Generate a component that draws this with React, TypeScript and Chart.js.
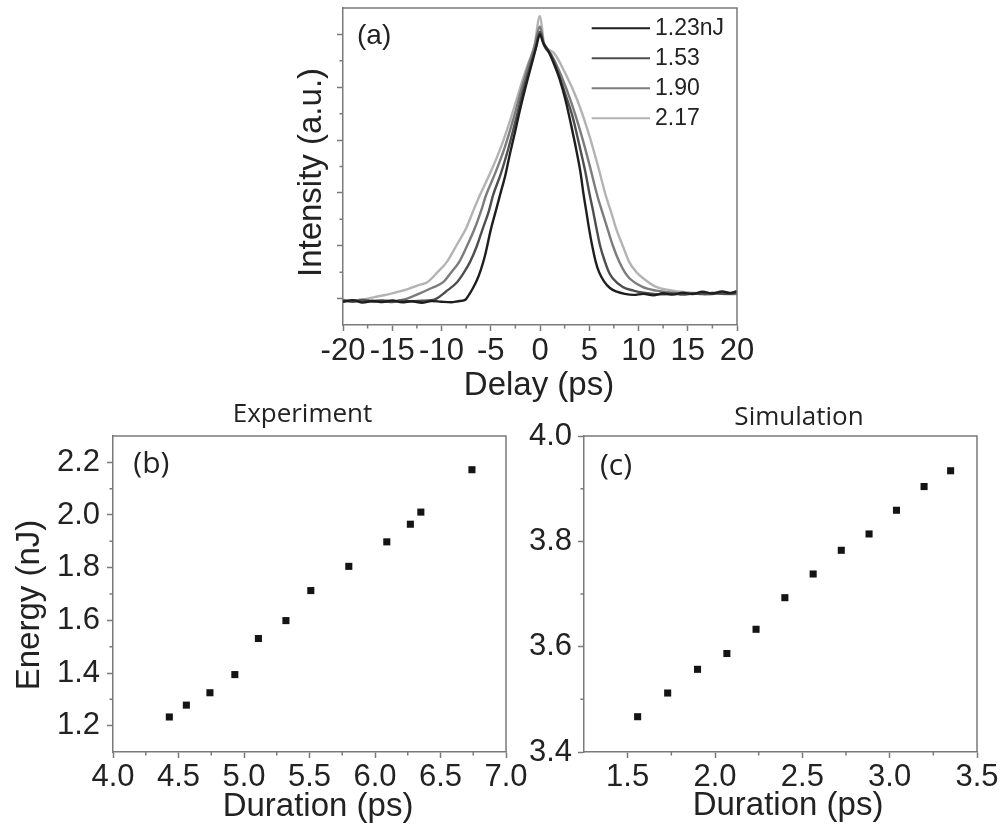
import React, { useEffect, useRef } from 'react';
import { Chart, registerables } from 'chart.js';

Chart.register(...registerables);

// ---------- Panel (a): autocorrelation traces ----------
const delay123 = [-20, -19, -18, -17, -16, -15, -14, -13, -12, -11, -10, -9, -8.3, -7.6, -7.2, -6.8, -6.4, -6.0, -5.6, -5.0, -4.5, -4.0, -3.5, -3.1, -2.6, -2.0, -1.4, -0.9, -0.4, 0, 0.3, 0.8, 1.4, 2.0, 2.6, 3.2, 3.7, 4.1, 4.4, 4.7, 5.0, 5.3, 5.65, 6.0, 6.5, 7.1, 7.8, 8.6, 9.5, 10.5, 11.5, 12.5, 13.5, 14.5, 15.5, 16.5, 17.5, 18.5, 19.3, 20];
const int123 = [-0.012, -0.006, -0.015, -0.009, -0.013, -0.007, -0.014, -0.01, -0.016, -0.009, -0.012, -0.014, -0.01, -0.005, 0.015, 0.04, 0.07, 0.11, 0.16, 0.26, 0.33, 0.40, 0.47, 0.54, 0.62, 0.72, 0.81, 0.88, 0.95, 1.0, 0.97, 0.94, 0.89, 0.83, 0.75, 0.65, 0.56, 0.48, 0.4, 0.33, 0.26, 0.2, 0.14, 0.1, 0.065, 0.04, 0.026, 0.018, 0.014, 0.018, 0.012, 0.02, 0.015, 0.022, 0.017, 0.026, 0.019, 0.027, 0.021, 0.028];

const delay153 = [-20, -19, -18, -17, -16, -15, -14, -13, -12, -11, -10.5, -9.6, -8.4, -7.7, -7.1, -6.4, -5.8, -5.2, -4.76, -4.0, -3.2, -2.5, -1.7, -1.0, -0.5, 0, 0.4, 1.0, 1.8, 2.6, 3.3, 4.0, 4.6, 5.05, 5.4, 5.73, 6.1, 6.6, 7.0, 7.4, 8.4, 9.5, 10.5, 11.5, 12.5, 13.5, 14.5, 15.5, 16.5, 17.5, 18.5, 20];
const int153 = [-0.008, -0.012, -0.006, -0.011, -0.009, -0.013, -0.007, -0.01, -0.008, -0.006, 0.0, 0.025, 0.063, 0.1, 0.139, 0.2, 0.266, 0.33, 0.392, 0.47, 0.57, 0.67, 0.79, 0.88, 0.94, 1.01, 0.96, 0.93, 0.86, 0.77, 0.69, 0.58, 0.48, 0.392, 0.33, 0.266, 0.2, 0.139, 0.1, 0.076, 0.044, 0.03, 0.022, 0.018, 0.016, 0.019, 0.015, 0.02, 0.017, 0.021, 0.018, 0.02];

const delay190 = [-20, -19, -18, -17, -16, -15, -14, -13.5, -12.2, -11.0, -9.8, -9.0, -8.2, -7.4, -6.62, -6.0, -5.47, -4.6, -3.6, -2.7, -1.9, -1.2, -0.6, 0, 0.4, 1.2, 2.2, 3.2, 4.2, 5.0, 5.8, 6.3, 6.84, 7.4, 8.05, 8.6, 9.1, 10.4, 11.8, 13, 14, 15, 16, 17, 18, 19, 20];
const int190 = [-0.005, -0.009, -0.004, -0.008, -0.006, -0.01, -0.005, 0.0, 0.02, 0.04, 0.063, 0.1, 0.139, 0.2, 0.266, 0.33, 0.392, 0.47, 0.57, 0.68, 0.79, 0.88, 0.95, 1.03, 0.96, 0.92, 0.84, 0.74, 0.62, 0.51, 0.392, 0.33, 0.266, 0.2, 0.139, 0.1, 0.076, 0.044, 0.03, 0.024, 0.02, 0.017, 0.02, 0.016, 0.019, 0.017, 0.018];

const delay217 = [-20, -19, -18, -16.5, -15, -13.5, -12.4, -11.4, -10.4, -9.45, -8.5, -7.5, -6.8, -6.1, -5.0, -3.9, -2.9, -2.0, -1.2, -0.6, 0, 0.4, 1.4, 2.6, 3.8, 4.9, 5.9, 6.66, 7.2, 7.72, 8.4, 9.05, 9.8, 10.5, 11.8, 13.2, 14.8, 16.5, 18, 20];
const int217 = [-0.004, -0.008, -0.003, 0.008, 0.02, 0.035, 0.05, 0.063, 0.1, 0.139, 0.2, 0.266, 0.33, 0.392, 0.48, 0.58, 0.69, 0.8, 0.89, 0.95, 1.07, 0.97, 0.93, 0.85, 0.75, 0.63, 0.5, 0.392, 0.33, 0.266, 0.2, 0.139, 0.1, 0.076, 0.044, 0.032, 0.024, 0.02, 0.022, 0.02];

const traceLabels = ['1.23nJ', '1.53', '1.90', '2.17'];
const traceColors = ['#1e1e1e', '#4e4e4e', '#7c7c7c', '#b3b3b3'];

const aXMajor = [-20, -15, -10, -5, 0, 5, 10, 15, 20];
const aXMinor = [-17.5, -12.5, -7.5, -2.5, 2.5, 7.5, 12.5, 17.5];
const aYMajor = [0, 0.2, 0.4, 0.6, 0.8, 1.0];
const aYMinor = [0.1, 0.3, 0.5, 0.7, 0.9];

// ---------- Panel (b): experiment ----------
const expDuration = [4.43, 4.56, 4.74, 4.93, 5.11, 5.32, 5.51, 5.80, 6.09, 6.27, 6.35, 6.74];
const expEnergy = [1.233, 1.278, 1.325, 1.394, 1.531, 1.599, 1.713, 1.805, 1.898, 1.965, 2.011, 2.172];
const bXMajor = [4.0, 4.5, 5.0, 5.5, 6.0, 6.5, 7.0];
const bXMinor = [4.25, 4.75, 5.25, 5.75, 6.25, 6.75];
const bYMajor = [1.2, 1.4, 1.6, 1.8, 2.0, 2.2];
const bYMinor = [1.3, 1.5, 1.7, 1.9, 2.1];

// ---------- Panel (c): simulation ----------
const simDuration = [1.557, 1.729, 1.900, 2.068, 2.235, 2.400, 2.562, 2.723, 2.882, 3.039, 3.197, 3.349];
const simEnergy = [3.467, 3.512, 3.557, 3.587, 3.633, 3.693, 3.738, 3.783, 3.814, 3.859, 3.904, 3.934];
const cXMajor = [1.5, 2.0, 2.5, 3.0, 3.5];
const cXMinor = [1.75, 2.25, 2.75, 3.25];
const cYMajor = [3.4, 3.6, 3.8, 4.0];
const cYMinor = [3.5, 3.7, 3.9];

// ---------- styling ----------
const AXIS_COLOR = '#7a7a7a';
const AXIS_W = 1.5;
const TEXT_COLOR = '#222222';
const SANS = "'Liberation Sans', Arial, sans-serif";
const HUMAN = "'Open Sans', 'Noto Sans', sans-serif";

type TextItem = {
  text: string; x: number; y: number; font: string;
  align?: CanvasTextAlign; baseline?: CanvasTextBaseline; rotate?: boolean;
};

type PanelCfg = {
  width: number; height: number; left: number; top: number;
  padTop: number; padRight: number; yAxisWidth: number; xAxisHeight: number;
  datasets: any[];
  xMin: number; xMax: number; yMin: number; yMax: number;
  xMajor: number[]; xMinor: number[]; yMajor: number[]; yMinor: number[];
  xFmt: (v: number) => string; yLabels: boolean; yFmt: (v: number) => string;
  xPad: number; yPad: number;
  texts: (ca: any) => TextItem[];
  legend?: boolean;
};

function buildChart(canvas: HTMLCanvasElement, cfg: PanelCfg) {
  const decor = {
    id: 'decor',
    afterDraw(chart: any) {
      const { ctx, chartArea: ca, scales } = chart;
      const xs = scales.x;
      const ys = scales.y;
      ctx.save();
      ctx.strokeStyle = AXIS_COLOR;
      ctx.lineWidth = AXIS_W;
      ctx.beginPath();
      ctx.moveTo(ca.left, ca.top);
      ctx.lineTo(ca.right, ca.top);
      ctx.lineTo(ca.right, ca.bottom);
      ctx.stroke();
      ctx.beginPath();
      for (const v of cfg.xMinor) {
        const p = xs.getPixelForValue(v);
        ctx.moveTo(p, ca.bottom);
        ctx.lineTo(p, ca.bottom + 3.5);
      }
      for (const v of cfg.yMinor) {
        const p = ys.getPixelForValue(v);
        ctx.moveTo(ca.left, p);
        ctx.lineTo(ca.left - 3.5, p);
      }
      ctx.stroke();

      if (cfg.legend) {
        chart.data.datasets.forEach((ds: any, i: number) => {
          const y = ca.top + 20.3 + 30 * i;
          ctx.strokeStyle = ds.borderColor;
          ctx.lineWidth = 2;
          ctx.beginPath();
          ctx.moveTo(ca.right - 145.3, y);
          ctx.lineTo(ca.right - 87, y);
          ctx.stroke();
          ctx.fillStyle = TEXT_COLOR;
          ctx.font = `23px ${SANS}`;
          ctx.textAlign = 'left';
          ctx.textBaseline = 'middle';
          ctx.fillText(ds.label, ca.right - 82, y);
        });
      }

      for (const t of cfg.texts(ca)) {
        ctx.save();
        ctx.fillStyle = TEXT_COLOR;
        ctx.font = t.font;
        ctx.textAlign = t.align || 'center';
        ctx.textBaseline = t.baseline || 'middle';
        ctx.translate(t.x, t.y);
        if (t.rotate) ctx.rotate(-Math.PI / 2);
        ctx.fillText(t.text, 0, 0);
        ctx.restore();
      }
      ctx.restore();
    },
  };

  const tickFont = { family: SANS, size: 31, lineHeight: 1.2 };

  return new Chart(canvas, {
    type: 'line',
    data: { datasets: cfg.datasets },
    plugins: [decor],
    options: {
      responsive: false,
      animation: false,
      events: [],
      layout: { padding: { top: cfg.padTop, right: cfg.padRight, left: 0, bottom: 0 } },
      plugins: { legend: { display: false }, tooltip: { enabled: false }, title: { display: false } },
      scales: {
        x: {
          type: 'linear',
          min: cfg.xMin,
          max: cfg.xMax,
          afterBuildTicks: (s: any) => { s.ticks = cfg.xMajor.map((v) => ({ value: v })); },
          afterFit: (s: any) => { s.height = cfg.xAxisHeight; },
          ticks: {
            font: tickFont, color: TEXT_COLOR, padding: cfg.xPad,
            autoSkip: false, maxRotation: 0, minRotation: 0,
            callback: (v: any) => cfg.xFmt(Number(v)),
          },
          grid: { drawOnChartArea: false, drawTicks: true, tickLength: 6, tickColor: AXIS_COLOR, tickWidth: AXIS_W, color: AXIS_COLOR },
          border: { display: true, color: AXIS_COLOR, width: AXIS_W },
        },
        y: {
          type: 'linear',
          min: cfg.yMin,
          max: cfg.yMax,
          afterBuildTicks: (s: any) => { s.ticks = cfg.yMajor.map((v) => ({ value: v })); },
          afterFit: (s: any) => { s.width = cfg.yAxisWidth; },
          ticks: {
            display: cfg.yLabels,
            font: tickFont, color: TEXT_COLOR, padding: cfg.yPad,
            autoSkip: false,
            callback: (v: any) => cfg.yFmt(Number(v)),
          },
          grid: { drawOnChartArea: false, drawTicks: true, tickLength: 6, tickColor: AXIS_COLOR, tickWidth: AXIS_W, color: AXIS_COLOR },
          border: { display: true, color: AXIS_COLOR, width: AXIS_W },
        },
      },
    } as any,
  });
}

const traceSets = [
  [delay123, int123],
  [delay153, int153],
  [delay190, int190],
  [delay217, int217],
];

const panelA: PanelCfg = {
  left: 270, top: 0, width: 500, height: 410,
  padTop: 8, padRight: 33, yAxisWidth: 73, xAxisHeight: 85,
  datasets: traceSets.map(([xs, ys], i) => ({
    type: 'line',
    label: traceLabels[i],
    data: xs.map((x, j) => ({ x, y: ys[j] })),
    borderColor: traceColors[i],
    backgroundColor: traceColors[i],
    borderWidth: 2.4,
    pointRadius: 0,
    cubicInterpolationMode: 'monotone',
    fill: false,
  })),
  xMin: -20, xMax: 20, yMin: -0.1, yMax: 1.1,
  xMajor: aXMajor, xMinor: aXMinor, yMajor: aYMajor, yMinor: aYMinor,
  xFmt: (v) => String(v), yLabels: false, yFmt: (v) => String(v),
  xPad: 2, yPad: 6,
  legend: true,
  texts: (ca) => [
    { text: 'Intensity (a.u.)', x: ca.left - 31.3, y: (ca.top + ca.bottom) / 2 + 6, font: `33px ${SANS}`, rotate: true },
    { text: 'Delay (ps)', x: (ca.left + ca.right) / 2 - 1, y: ca.bottom + 61, font: `33px ${SANS}` },
    { text: '(a)', x: ca.left + 14, y: ca.top + 28.7, font: `28px ${SANS}`, align: 'left' },
  ],
};

const scatterSet = (xs: number[], ys: number[]) => ({
  type: 'scatter',
  label: 'data',
  data: xs.map((x, j) => ({ x, y: ys[j] })),
  pointStyle: 'rect',
  pointRadius: 5,
  backgroundColor: '#141414',
  borderColor: '#141414',
  borderWidth: 0,
  showLine: false,
});

const panelB: PanelCfg = {
  left: 0, top: 390, width: 540, height: 448,
  padTop: 46, padRight: 34, yAxisWidth: 113, xAxisHeight: 86,
  datasets: [scatterSet(expDuration, expEnergy)],
  xMin: 4.0, xMax: 7.0, yMin: 1.1, yMax: 2.3,
  xMajor: bXMajor, xMinor: bXMinor, yMajor: bYMajor, yMinor: bYMinor,
  xFmt: (v) => v.toFixed(1), yLabels: true, yFmt: (v) => v.toFixed(1),
  xPad: 1, yPad: 7,
  texts: (ca) => [
    { text: 'Experiment', x: (ca.left + ca.right) / 2 - 7, y: ca.top - 14.3, font: `26px ${HUMAN}`, baseline: 'alphabetic' },
    { text: '(b)', x: ca.left + 20.3, y: ca.top + 28, font: `30px ${HUMAN}`, align: 'left' },
    { text: 'Energy (nJ)', x: 30, y: (ca.top + ca.bottom) / 2 + 11, font: `33px ${SANS}`, rotate: true },
    { text: 'Duration (ps)', x: (ca.left + ca.right) / 2 + 8.5, y: ca.bottom + 54.7, font: `33px ${SANS}` },
  ],
};

const panelC: PanelCfg = {
  left: 500, top: 390, width: 508, height: 448,
  padTop: 46, padRight: 31, yAxisWidth: 84, xAxisHeight: 86,
  datasets: [scatterSet(simDuration, simEnergy)],
  xMin: 1.25, xMax: 3.5, yMin: 3.4, yMax: 4.0,
  xMajor: cXMajor, xMinor: cXMinor, yMajor: cYMajor, yMinor: cYMinor,
  xFmt: (v) => v.toFixed(1), yLabels: true, yFmt: (v) => v.toFixed(1),
  xPad: 1, yPad: 6,
  texts: (ca) => [
    { text: 'Simulation', x: (ca.left + ca.right) / 2 + 18.5, y: ca.top - 11, font: `26px ${HUMAN}`, baseline: 'alphabetic' },
    { text: '(c)', x: ca.left + 16, y: ca.top + 30.7, font: `30px ${HUMAN}`, align: 'left' },
    { text: 'Duration (ps)', x: (ca.left + ca.right) / 2 + 7.5, y: ca.bottom + 53.7, font: `33px ${SANS}` },
  ],
};

function Panel({ cfg }: { cfg: PanelCfg }) {
  const ref = useRef<HTMLCanvasElement | null>(null);
  useEffect(() => {
    if (!ref.current) return;
    const chart = buildChart(ref.current, cfg);
    return () => chart.destroy();
  }, [cfg]);
  return (
    <canvas
      ref={ref}
      width={cfg.width}
      height={cfg.height}
      style={{ position: 'absolute', left: cfg.left, top: cfg.top, width: cfg.width, height: cfg.height }}
    />
  );
}

export default function App() {
  return (
    <div style={{ position: 'fixed', left: 0, top: 0, width: 1008, height: 838, background: '#ffffff', overflow: 'hidden' }}>
      <Panel cfg={panelA} />
      <Panel cfg={panelB} />
      <Panel cfg={panelC} />
    </div>
  );
}
